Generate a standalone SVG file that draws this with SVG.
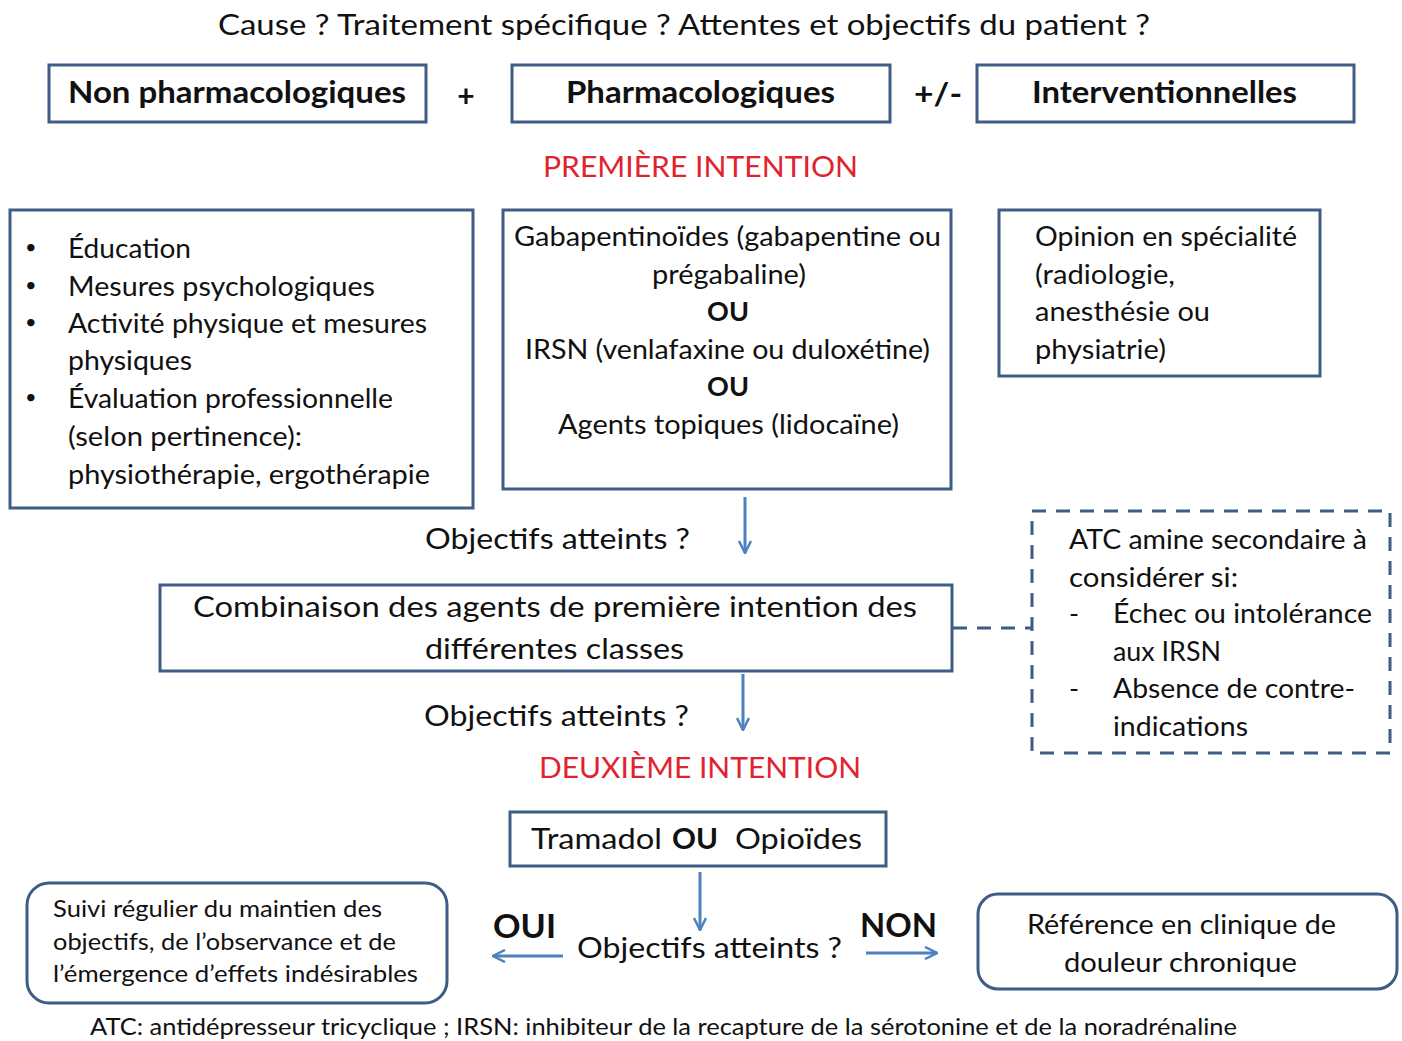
<svg xmlns="http://www.w3.org/2000/svg" width="1402" height="1041" viewBox="0 0 1402 1041">
<style>
text{font-family:Lato,"Open Sans","Liberation Sans",sans-serif;fill:#111;}
.box{fill:#fff;stroke:#3E5C84;stroke-width:3;}
.dash{fill:#fff;stroke:#3E5C84;stroke-width:3;stroke-dasharray:14 10;}
.hd{font-size:30px;font-weight:bold;}
.red{fill:#E0232E;font-size:29px;}
.t27{font-size:27px;}
.bul{font-size:20px;}
.arr{stroke:#4F81BD;stroke-width:3;fill:none;}
</style>
<defs>
<marker id="ah" viewBox="0 0 14 14" refX="13" refY="7" markerWidth="14" markerHeight="14" markerUnits="userSpaceOnUse" orient="auto">
<path d="M1,1 L13,7 L1,13" fill="none" stroke="#4F81BD" stroke-width="2.5"/>
</marker>
</defs>
<rect width="1402" height="1041" fill="#fff"/>
<text x="218" y="35" font-size="28" textLength="932" lengthAdjust="spacingAndGlyphs">Cause ? Traitement spécifique ? Attentes  et objectifs du patient ?</text>

<g id="non-pharma"><rect class="box" x="49" y="65" width="377" height="57"/><text class="hd" x="68" y="103" textLength="338" lengthAdjust="spacingAndGlyphs">Non pharmacologiques</text></g>
<text x="466" y="107" font-size="30" font-weight="bold" text-anchor="middle">+</text>
<g id="pharma"><rect class="box" x="512" y="65" width="378" height="57"/><text class="hd" x="566" y="103" textLength="269" lengthAdjust="spacingAndGlyphs">Pharmacologiques</text></g>
<text x="914" y="105" font-size="30" font-weight="bold" textLength="48" lengthAdjust="spacingAndGlyphs">+/-</text>
<g id="interv"><rect class="box" x="977" y="65" width="377" height="57"/><text class="hd" x="1032" y="103" textLength="265" lengthAdjust="spacingAndGlyphs">Interventionnelles</text></g>

<text class="red" x="543" y="177" textLength="315" lengthAdjust="spacingAndGlyphs">PREMIÈRE INTENTION</text>

<g id="non-pharma-list"><rect class="box" x="10" y="210" width="463" height="298"/>
<g class="t27">
<text class="bul" x="25" y="254">•</text><text x="68" y="258" textLength="123" lengthAdjust="spacingAndGlyphs">Éducation</text>
<text class="bul" x="25" y="292">•</text><text x="68" y="296" textLength="307" lengthAdjust="spacingAndGlyphs">Mesures psychologiques</text>
<text class="bul" x="25" y="329">•</text><text x="68" y="333" textLength="359" lengthAdjust="spacingAndGlyphs">Activité physique et mesures</text>
<text x="68" y="370" textLength="124" lengthAdjust="spacingAndGlyphs">physiques</text>
<text class="bul" x="25" y="404">•</text><text x="68" y="408" textLength="325" lengthAdjust="spacingAndGlyphs">Évaluation professionnelle</text>
<text x="68" y="446" textLength="234" lengthAdjust="spacingAndGlyphs">(selon pertinence):</text>
<text x="68" y="484" textLength="362" lengthAdjust="spacingAndGlyphs">physiothérapie, ergothérapie</text>
</g></g>

<g id="pharma-list"><rect class="box" x="503" y="210" width="448" height="279"/>
<g class="t27">
<text x="514" y="246" textLength="427" lengthAdjust="spacingAndGlyphs">Gabapentinoïdes (gabapentine ou</text>
<text x="652" y="284" textLength="154" lengthAdjust="spacingAndGlyphs">prégabaline)</text>
<text x="728" y="321" font-weight="bold" text-anchor="middle">OU</text>
<text x="525" y="359" textLength="405" lengthAdjust="spacingAndGlyphs">IRSN (venlafaxine ou duloxétine)</text>
<text x="728" y="396" font-weight="bold" text-anchor="middle">OU</text>
<text x="558" y="434" textLength="341" lengthAdjust="spacingAndGlyphs">Agents topiques (lidocaïne)</text>
</g></g>

<g id="interv-list"><rect class="box" x="999" y="210" width="321" height="166"/>
<g class="t27">
<text x="1035" y="246" textLength="262" lengthAdjust="spacingAndGlyphs">Opinion en spécialité</text>
<text x="1035" y="284" textLength="140" lengthAdjust="spacingAndGlyphs">(radiologie,</text>
<text x="1035" y="321" textLength="175" lengthAdjust="spacingAndGlyphs">anesthésie ou</text>
<text x="1035" y="359" textLength="131" lengthAdjust="spacingAndGlyphs">physiatrie)</text>
</g></g>

<text x="425" y="549" font-size="28" textLength="265" lengthAdjust="spacingAndGlyphs">Objectifs atteints ?</text>

<g id="combinaison"><rect class="box" x="160" y="585" width="792" height="86"/>
<text x="193" y="617" font-size="28" textLength="724" lengthAdjust="spacingAndGlyphs">Combinaison des agents de première intention des</text>
<text x="425" y="659" font-size="28" textLength="259" lengthAdjust="spacingAndGlyphs">différentes classes</text></g>

<g id="atc"><rect class="dash" x="1032" y="511" width="358" height="242"/>
<g class="t27">
<text x="1069" y="549" textLength="298" lengthAdjust="spacingAndGlyphs">ATC amine secondaire à</text>
<text x="1069" y="587" textLength="169" lengthAdjust="spacingAndGlyphs">considérer si:</text>
<text x="1069" y="623">-</text><text x="1113" y="623" textLength="259" lengthAdjust="spacingAndGlyphs">Échec ou intolérance</text>
<text x="1113" y="661" textLength="108" lengthAdjust="spacingAndGlyphs">aux IRSN</text>
<text x="1069" y="698">-</text><text x="1113" y="698" textLength="242" lengthAdjust="spacingAndGlyphs">Absence de contre-</text>
<text x="1113" y="736" textLength="135" lengthAdjust="spacingAndGlyphs">indications</text>
</g></g>

<text x="424" y="726" font-size="28" textLength="265" lengthAdjust="spacingAndGlyphs">Objectifs atteints ?</text>
<text class="red" x="539" y="778" textLength="322" lengthAdjust="spacingAndGlyphs">DEUXIÈME INTENTION</text>

<g id="tramadol"><rect class="box" x="510" y="812" width="376" height="54"/>
<text x="531" y="849" font-size="28" textLength="131" lengthAdjust="spacingAndGlyphs">Tramadol</text>
<text x="672" y="849" font-size="28" font-weight="bold" textLength="46" lengthAdjust="spacingAndGlyphs">OU</text>
<text x="735" y="849" font-size="28" textLength="127" lengthAdjust="spacingAndGlyphs">Opioïdes</text></g>

<text x="577" y="958" font-size="28" textLength="265" lengthAdjust="spacingAndGlyphs">Objectifs atteints ?</text>
<text x="493" y="938" font-size="32" font-weight="bold" textLength="63" lengthAdjust="spacingAndGlyphs">OUI</text>
<text x="860" y="937" font-size="32" font-weight="bold" textLength="77" lengthAdjust="spacingAndGlyphs">NON</text>

<g id="suivi"><rect class="box" x="27" y="883" width="420" height="120" rx="22"/>
<g font-size="24">
<text x="53" y="917" textLength="329" lengthAdjust="spacingAndGlyphs">Suivi régulier du maintien des</text>
<text x="53" y="950" textLength="343" lengthAdjust="spacingAndGlyphs">objectifs, de l’observance et de</text>
<text x="53" y="982" textLength="365" lengthAdjust="spacingAndGlyphs">l’émergence d’effets indésirables</text>
</g></g>

<g id="reference"><rect class="box" x="978" y="894" width="419" height="95" rx="20"/>
<text x="1027" y="934" font-size="26" textLength="309" lengthAdjust="spacingAndGlyphs">Référence  en clinique de</text>
<text x="1064" y="972" font-size="26" textLength="233" lengthAdjust="spacingAndGlyphs">douleur chronique</text></g>

<text x="90" y="1035" font-size="24" textLength="1147" lengthAdjust="spacingAndGlyphs">ATC: antidépresseur tricyclique ; IRSN: inhibiteur de la recapture de la sérotonine et de la noradrénaline</text>

<g id="connectors">
<line class="arr" x1="745" y1="497" x2="745" y2="553" marker-end="url(#ah)"/>
<line class="arr" x1="743" y1="674" x2="743" y2="730" marker-end="url(#ah)"/>
<line class="arr" x1="700" y1="872" x2="700" y2="930" marker-end="url(#ah)"/>
<line class="arr" x1="563" y1="956" x2="493" y2="956" marker-end="url(#ah)"/>
<line class="arr" x1="866" y1="953" x2="937" y2="953" marker-end="url(#ah)"/>
<line x1="953" y1="628" x2="1032" y2="628" stroke="#3E5C84" stroke-width="3" stroke-dasharray="14 10"/>
</g>
</svg>
